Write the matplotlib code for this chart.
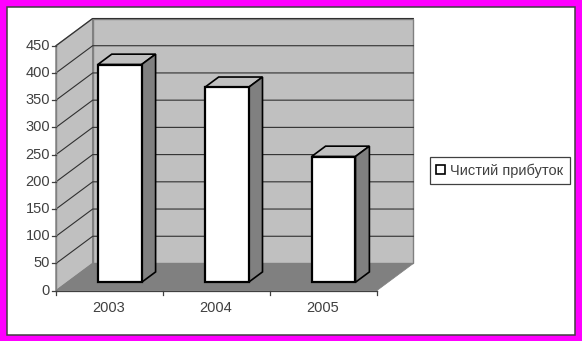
import matplotlib
matplotlib.use('Agg')
import matplotlib.pyplot as plt
from matplotlib.patches import Polygon, Rectangle

# data
years = ['2003', '2004', '2005']
profit = [400, 358, 231]
series_name = 'Чистий прибуток'
y_ticks = list(range(0, 451, 50))

plt.rcParams['font.family'] = ['Liberation Sans', 'DejaVu Sans']

W, H = 582, 341
fig = plt.figure(figsize=(W / 100, H / 100), dpi=100)
fig.patch.set_facecolor('#FF00FF')

# white panel with dark frame (figure pixels)
fig.patches.append(Rectangle((7 / W, (H - 335) / H), 568 / W, 328 / H,
                             transform=fig.transFigure, facecolor='white',
                             edgecolor='#404040', lw=1.1, zorder=-5))

# pixel layout of the plot: origin of value axis and scale
ox, oy = 56.0, 290.7          # front-left corner (pixels from top-left)
px_cat = 106.9                # pixels per category
px_val = 0.5444               # pixels per value unit
ax = fig.add_axes([0, 0, 1, 1])
ax.set_xlim(-ox / px_cat, (W - ox) / px_cat)
ax.set_ylim(-(H - oy) / px_val, oy / px_val)
ax.set_axis_off()
ax.patch.set_alpha(0)

n = len(years)
vmax = y_ticks[-1]
dx, dy = 0.343, 50.0          # depth vector in data units
wall = '#C0C0C0'
edge = '#808080'
grid = '#303030'


def proj(x, v, d):
    return (x + d * dx, v + d * dy)


# side wall
ax.add_patch(Polygon([proj(0, 0, 0), proj(0, 0, 1), proj(0, vmax, 1), proj(0, vmax, 0)],
                     closed=True, facecolor=wall, edgecolor=edge, lw=1, zorder=1))
# back wall
ax.add_patch(Polygon([proj(0, 0, 1), proj(n, 0, 1), proj(n, vmax, 1), proj(0, vmax, 1)],
                     closed=True, facecolor=wall, edgecolor=edge, lw=1, zorder=1))
# floor
ax.add_patch(Polygon([proj(0, 0, 0), proj(n, 0, 0), proj(n, 0, 1), proj(0, 0, 1)],
                     closed=True, facecolor='#808080', edgecolor='#808080', lw=0.5, zorder=2))

# gridlines
for v in y_ticks[1:]:
    a, b, c = proj(0, v, 0), proj(0, v, 1), proj(n, v, 1)
    ax.plot([a[0], b[0], c[0]], [a[1], b[1], c[1]], color=grid, lw=0.8, zorder=3)

# value axis line, ticks and labels
ax.plot([0, 0], [0, vmax], color=edge, lw=1, zorder=4)
for v in y_ticks:
    ax.plot([-0.037, 0], [v, v], color='#404040', lw=0.9, zorder=4)
    ax.text(-0.055, v, str(v), ha='right', va='center', fontsize=10.5,
            color='#404040')

# category axis
ax.plot([0, n], [0, 0], color='#404040', lw=0.9, zorder=4)
for i in range(n + 1):
    ax.plot([i, i], [0, -7.3], color='#404040', lw=0.9, zorder=4)
for i, yr in enumerate(years):
    ax.text(i + 0.49, -32, yr, ha='center', va='center', fontsize=10.5, color='#404040')

# bars
bw = 0.41
d0, d1 = 0.31, 0.69
for i, val in enumerate(profit):
    x0 = i + 0.49 - bw / 2
    x1 = x0 + bw
    top = [proj(x0, val, d0), proj(x1, val, d0), proj(x1, val, d1), proj(x0, val, d1)]
    side = [proj(x1, 0, d0), proj(x1, 0, d1), proj(x1, val, d1), proj(x1, val, d0)]
    front = [proj(x0, 0, d0), proj(x1, 0, d0), proj(x1, val, d0), proj(x0, val, d0)]
    ax.add_patch(Polygon(top, closed=True, facecolor=wall, edgecolor='black', lw=1.2, zorder=5))
    ax.add_patch(Polygon(side, closed=True, facecolor='#808080', edgecolor='black', lw=1.2, zorder=5))
    ax.add_patch(Polygon(front, closed=True, facecolor='white', edgecolor='black', lw=1.6, zorder=6))

handle = Rectangle((0, 0), 1, 1, facecolor='white', edgecolor='black', lw=1.2)
leg = fig.legend([handle], [series_name], loc='center left',
                 bbox_to_anchor=(430 / W, 1 - 170.3 / H), fontsize=10.5,
                 frameon=True, fancybox=False, shadow=False, framealpha=1,
                 edgecolor='#404040', handlelength=0.62, handleheight=0.58,
                 handletextpad=0.35, borderpad=0.42, borderaxespad=0)
leg.get_frame().set_linewidth(0.9)
for t in leg.get_texts():
    t.set_color('#404040')

fig.savefig('out.png', dpi=100, facecolor=fig.get_facecolor())
